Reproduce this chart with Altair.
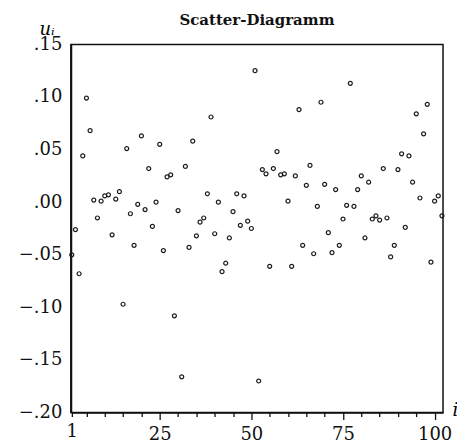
import altair as alt
import pandas as pd

# residuals u_i, i = 1..102
u_values = [
    -0.050, -0.026, -0.068, 0.044, 0.099, 0.068, 0.002, -0.015, 0.001, 0.006,
    0.007, -0.031, 0.003, 0.010, -0.097, 0.051, -0.011, -0.041, -0.002, 0.063,
    -0.007, 0.032, -0.023, 0.000, 0.055, -0.046, 0.024, 0.026, -0.108, -0.008,
    -0.166, 0.034, -0.043, 0.058, -0.032, -0.019, -0.015, 0.008, 0.081, -0.030,
    0.000, -0.066, -0.058, -0.034, -0.009, 0.008, -0.022, 0.006, -0.018, -0.025,
    0.125, -0.170, 0.031, 0.027, -0.061, 0.032, 0.048, 0.026, 0.027, 0.001,
    -0.061, 0.025, 0.088, -0.041, 0.016, 0.035, -0.049, -0.004, 0.095, 0.017,
    -0.029, -0.048, 0.012, -0.041, -0.016, -0.003, 0.113, -0.004, 0.012, 0.025,
    -0.034, 0.019, -0.016, -0.013, -0.017, 0.032, -0.015, -0.052, -0.041, 0.031,
    0.046, -0.024, 0.044, 0.019, 0.084, 0.004, 0.065, 0.093, -0.057, 0.001,
    0.006, -0.013,
]
i_values = list(range(1, len(u_values) + 1))

x_tick_values = [1] + list(range(5, 101, 5))
y_tick_values = [-0.20, -0.15, -0.10, -0.05, 0.00, 0.05, 0.10, 0.15]

df = pd.DataFrame({"i": i_values, "u": u_values})

FONT = "DejaVu Serif"

chart = (
    alt.Chart(df)
    .mark_point(filled=False, shape="circle", size=16, strokeWidth=1.2, color="#1a1a1a", opacity=1)
    .encode(
        x=alt.X(
            "i:Q",
            scale=alt.Scale(domain=[0.75, 102.3], nice=False, zero=False),
            axis=alt.Axis(
                title="i",
                titleFont=FONT,
                titleFontStyle="italic",
                titleFontWeight="normal",
                titleFontSize=18,
                titleAngle=0,
                titleAlign="left",
                titleBaseline="alphabetic",
                titleX=382,
                titleY=3,
                values=x_tick_values,
                labelExpr="(datum.value == 1 || datum.value % 25 == 0) ? datum.label : ''",
                labelFont=FONT,
                labelFontSize=18,
                labelColor="#111",
                labelPadding=6,
                labelFlush=False,
                labelOverlap=False,
                tickSize={"condition": {"test": "datum.value % 25 == 0", "value": 7}, "value": 4},
                tickColor="#111",
                tickWidth=1.3,
                domainColor="#111",
                domainWidth=1.5,
                grid=False,
            ),
        ),
        y=alt.Y(
            "u:Q",
            scale=alt.Scale(domain=[-0.20, 0.15], nice=False, zero=False),
            axis=alt.Axis(
                title="uᵢ",
                titleFont=FONT,
                titleFontStyle="italic",
                titleFontWeight="normal",
                titleFontSize=18,
                titleAngle=0,
                titleAlign="left",
                titleBaseline="alphabetic",
                titleX=-32,
                titleY=-10,
                values=y_tick_values,
                labelExpr="replace(format(datum.value, '.2f'), '0.', '.')",
                labelFont=FONT,
                labelFontSize=18,
                labelColor="#111",
                labelPadding=9,
                labelFlush=False,
                labelOverlap=False,
                ticks=False,
                domainColor="#111",
                domainWidth=1.8,
                grid=False,
            ),
        ),
    )
    .properties(
        width=373,
        height=369,
        title=alt.TitleParams(
            "Scatter-Diagramm",
            font=FONT,
            fontSize=15,
            fontWeight="bold",
            color="#111",
            anchor="middle",
            frame="group",
            baseline="alphabetic",
            offset=0,
            dy=20,
        ),
        autosize=alt.AutoSizeParams(type="none"),
        padding={"left": 63, "top": 36, "right": 14, "bottom": 33},
        background="white",
    )
    .configure_view(stroke="#111", strokeWidth=1.5)
)

chart.save("out.html", embed_options={"renderer": "svg", "actions": False})
